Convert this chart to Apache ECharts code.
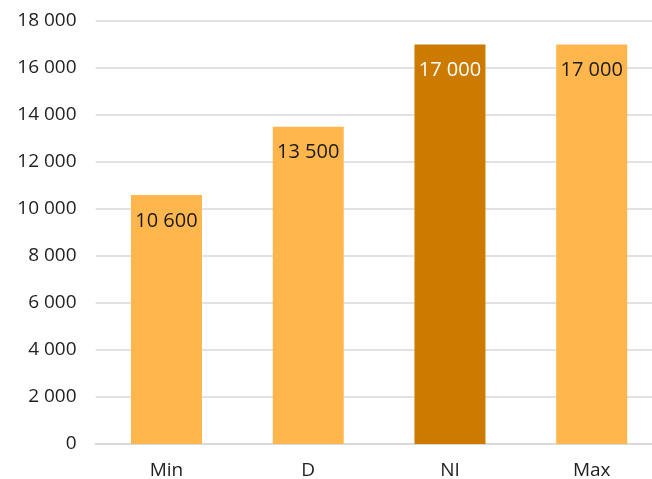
<!DOCTYPE html>
<html><head><meta charset="utf-8">
<script src="https://cdn.jsdelivr.net/npm/echarts@6/dist/echarts.min.js"></script>
<style>html,body{margin:0;padding:0;background:#fff}#c{width:652px;height:479px}</style>
</head><body><div id="c"></div>
<script>
const categories = ['Min', 'D', 'NI', 'Max'];
const values = [10600, 13500, 17000, 17000];
const highlight = [false, false, true, false];
const yMin = 0, yMax = 18000, yStep = 2000;

function fmt(v){ return String(v).replace(/\B(?=(\d{3})+(?!\d))/g, ' '); }
const font = '"Open Sans", "Noto Sans", sans-serif';
const chart = echarts.init(document.getElementById('c'));
chart.setOption({
  animation: false,
  grid: { left: 95.6, width: 567, top: 21, bottom: 35, containLabel: false, outerBoundsMode: 'none' },
  xAxis: {
    type: 'category', data: categories,
    axisLine: { show: true, lineStyle: { color: '#d9d9d9', width: 2 } },
    axisTick: { show: false },
    axisLabel: { color: '#1f1f1f', fontSize: 19, fontFamily: font, margin: 17 }
  },
  yAxis: {
    type: 'value', min: yMin, max: yMax, interval: yStep,
    axisLine: { show: false }, axisTick: { show: false },
    splitLine: { lineStyle: { color: '#d9d9d9', width: 1.5 } },
    axisLabel: { color: '#1f1f1f', fontSize: 19, fontFamily: font, margin: 19, formatter: fmt }
  },
  series: [{
    type: 'bar', barWidth: 71,
    data: values.map((v, i) => ({
      value: v,
      itemStyle: { color: highlight[i] ? '#CC7A00' : '#FFB74D' },
      label: { color: highlight[i] ? '#ffffff' : '#1a1a1a' }
    })),
    label: { show: true, position: 'insideTop', distance: 16, fontSize: 20, fontFamily: font, formatter: p => fmt(p.value) }
  }]
});
</script></body></html>
